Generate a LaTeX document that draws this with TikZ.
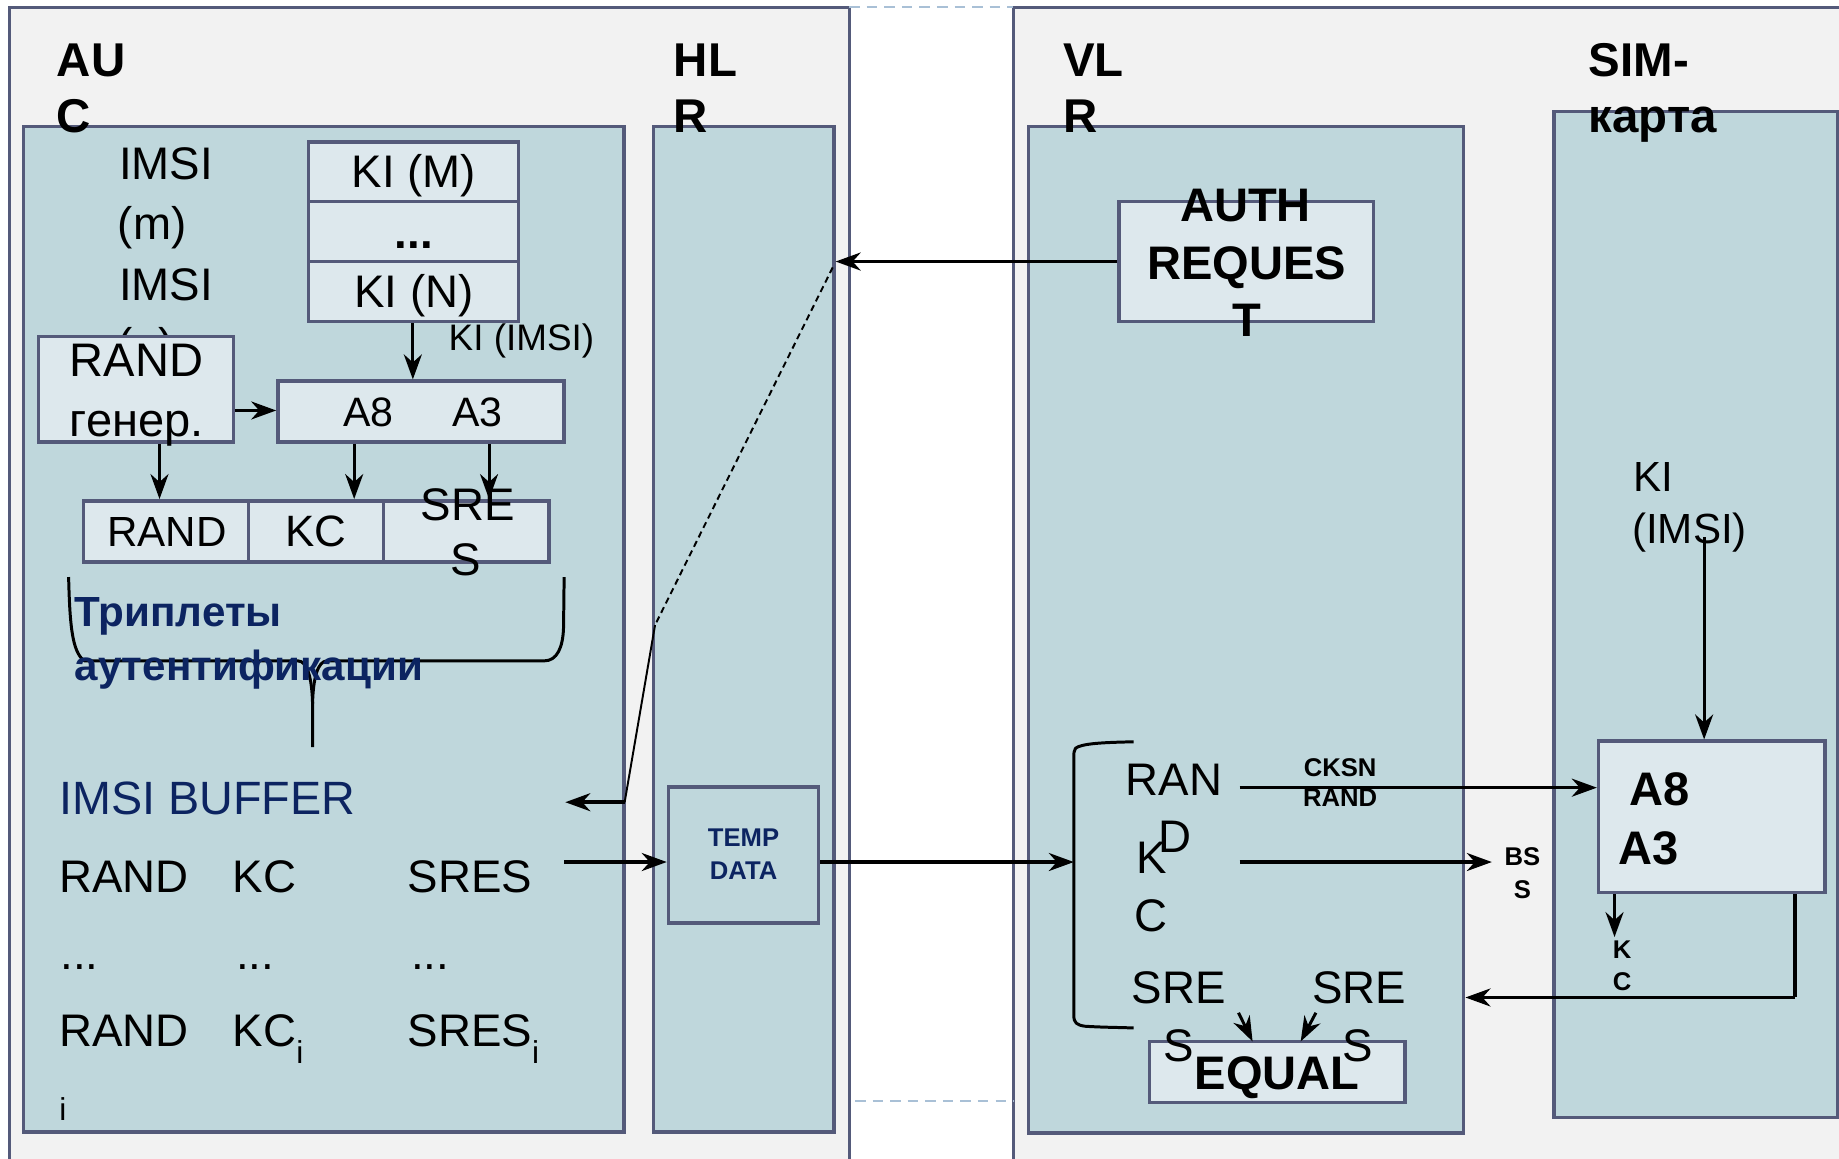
\documentclass[tikz,border=0pt]{standalone}
\usepackage{fontspec}
\setmainfont{Liberation Sans}
\usetikzlibrary{arrows.meta,fit}
\definecolor{outerfill}{HTML}{F2F2F2}
\definecolor{frame}{HTML}{545A7A}
\definecolor{panelfill}{HTML}{BFD7DC}
\definecolor{boxfill}{HTML}{DDE8ED}
\definecolor{navy}{HTML}{0C2461}
\definecolor{dashblue}{HTML}{A9C0D6}
\newcommand\myfs[1]{\fontsize{#1}{#1}\selectfont}
\newcommand\mysub[1]{\raisebox{-4.9pt}{\myfs{9}#1}}
\begin{document}
\begin{tikzpicture}[x=0.011728cm,y=-0.011728cm,
  outerbox/.style={draw=frame,fill=outerfill,line width=0.85pt},
  panel/.style={draw=frame,fill=panelfill,line width=1pt,inner sep=0pt},
  lbox/.style={draw=frame,fill=boxfill,line width=1pt,inner sep=0pt},
  tbox/.style={draw=frame,fill=panelfill,line width=1pt,inner sep=0pt},
  txt/.style={inner sep=0pt,anchor=base west},
  ctxt/.style={inner sep=0pt,anchor=base},
  title/.style={txt,font=\bfseries\myfs{13.5}},
  arr/.style={line width=1pt,-{Stealth[length=2.5mm,width=1.8mm,inset=0.8mm]}},
  sarr/.style={line width=0.85pt,-{Stealth[length=2.5mm,width=1.8mm,inset=0.8mm]}},
  plain/.style={line width=1pt},
  thinline/.style={line width=0.55pt},
  brace/.style={line width=0.85pt,line join=round}
]
\useasboundingbox (0,0) rectangle (1568,988);
\clip (0,0) rectangle (1568,988);
\fill[white] (0,0) rectangle (1568,988);

% outer areas
\draw[outerbox] (8,6) rectangle (724,1000);
\draw[outerbox] (864,6) rectangle (1600,1000);
\draw[dashblue,line width=0.6pt,dash pattern=on 3pt off 2pt] (724,6) -- (864,6);
\draw[dashblue,line width=0.6pt,dash pattern=on 3pt off 2pt] (729,938.5) -- (864,938.5);

% panels
\node[panel,fit={(20,108) (532,965)}] (auc) {};
\node[panel,fit={(557,108) (711,965)}] (hlr) {};
\node[panel,fit={(877,108) (1248,966)}] (vlr) {};
\node[panel,fit={(1325,95) (1566.5,953)}] (sim) {};

% titles
\node[title] (tauc1) at (48,65) {AU};
\node[title] (tauc2) at (48,113) {C};
\node[title] (thlr1) at (574,65) {HL};
\node[title] (thlr2) at (574,113) {R};
\node[title] (tvlr1) at (906,65) {VL};
\node[title] (tvlr2) at (906,113) {R};
\node[title] (tsim1) at (1354,65) {SIM-};
\node[title] (tsim2) at (1354,113) {карта};

% ===== AUC =====
\node[txt,font=\myfs{13}] (imsi1) at (101,153) {IMSI};
\node[txt,font=\myfs{13}] (imsim) at (100,204) {(m)};
\node[txt,font=\myfs{13}] (imsi2) at (101,256) {IMSI};
\node[txt,font=\myfs{13}] (imsin) at (100,307) {(n)};

\node[lbox,fit={(263,121) (442,172)}] (kim) {};
\node[lbox,fit={(263,172) (442,223)}] (kid) {};
\node[lbox,fit={(263,223) (442,274)}] (kin) {};
\node[ctxt,font=\myfs{13}] (tkim) at (353,160) {KI (M)};
\node[ctxt,font=\bfseries\myfs{13}] (tkid) at (353,212) {...};
\node[ctxt,font=\myfs{13}] (tkin) at (353,262) {KI (N)};
\node[txt,font=\myfs{10.5}] (tkiimsi) at (382,299) {KI (IMSI)};

\node[lbox,fit={(33,287) (199,377)}] (rg) {};
\node[txt,font=\myfs{13.4}] (trg1) at (59,321) {RAND};
\node[txt,font=\myfs{13.4}] (trg2) at (59,372) {генер.};

\node[lbox,fit={(237,325) (481,377)}] (a83) {};
\node[txt,font=\myfs{11.7}] (ta8) at (292,364) {A8};
\node[txt,font=\myfs{11.7}] (ta3) at (385,364) {A3};

\node[lbox,fit={(71,427) (212,479)}] (tr1) {};
\node[lbox,fit={(212,427) (327,479)}] (tr2) {};
\node[lbox,fit={(327,427) (468,479)}] (tr3) {};
\node[txt,font=\myfs{12}] (ttr1) at (91,466) {RAND};
\node[txt,font=\myfs{12.5}] (ttr2) at (243,466) {KC};
\node[txt,font=\myfs{13}] (ttr3a) at (358,444) {SRE};
\node[ctxt,font=\myfs{13}] (ttr3b) at (397,491) {S};

\coordinate (kix) at (352,0);
\draw[sarr] (kin.south -| kix) -- (a83.north -| kix);
\coordinate (rgy) at (0,350);
\draw[sarr] (rg.east |- rgy) -- (a83.west |- rgy);
\coordinate (c1) at (136,0);
\coordinate (c2) at (302,0);
\coordinate (c3) at (417,0);
\draw[sarr] (rg.south -| c1) -- (tr1.north -| c1);
\draw[sarr] (a83.south -| c2) -- (tr2.north -| c2);
\draw[sarr] (a83.south -| c3) -- (tr3.north -| c3);

% brace
\draw[brace] (58.5,492) .. controls (59.5,530) and (61,556) .. (72,563.5) -- (254,563.5)
  .. controls (262,563.5) and (266,578) .. (266.5,600) -- (266.5,637);
\draw[brace] (266.5,600) .. controls (267,578) and (271,563.5) .. (279,563.5) -- (464,563.5)
  .. controls (475,563.5) and (480,552) .. (480.5,535) -- (481,492);
\node[txt,font=\bfseries\myfs{12},text=navy] (ttrip1) at (63,534.6) {Триплеты};
\node[txt,font=\bfseries\myfs{12},text=navy] (ttrip2) at (63,580) {аутентификации};

% buffer
\node[txt,font=\myfs{13.3},text=navy] (tbuf) at (50,694.5) {IMSI BUFFER};
\node[txt,font=\myfs{13}] (b11) at (50,761) {RAND};
\node[txt,font=\myfs{13}] (b12) at (198,761) {KC};
\node[txt,font=\myfs{13}] (b13) at (347,761) {SRES};
\node[txt,font=\myfs{13}] (b21) at (51,826.7) {...};
\node[txt,font=\myfs{13}] (b22) at (200.7,826.7) {...};
\node[txt,font=\myfs{13}] (b23) at (350,826.7) {...};
\node[txt,font=\myfs{13}] (b31) at (50,892) {RAND};
\node[txt,font=\myfs{13}] (b32) at (198,892) {KC\mysub{i}};
\node[txt,font=\myfs{13}] (b33) at (347,892) {SRES\mysub{i}};
\node[txt,font=\myfs{9}] (b4) at (50,955.6) {i};

% HLR
\node[tbox,fit={(570,671) (698,787)}] (temp) {};
\node[ctxt,font=\bfseries\myfs{7.3},text=navy] (ttemp1) at (634,722) {TEMP};
\node[ctxt,font=\bfseries\myfs{7.3},text=navy] (ttemp2) at (634,750) {DATA};

% ===== VLR =====
\node[lbox,fit={(954,172) (1171,274)}] (auth) {};
\node[ctxt,font=\bfseries\myfs{13.4}] (tauth1) at (1062,189) {AUTH};
\node[ctxt,font=\bfseries\myfs{13.4}] (tauth2) at (1063,238) {REQUES};
\node[ctxt,font=\bfseries\myfs{13.4}] (tauth3) at (1063,287) {T};
\draw[arr] (auth.west) -- (auth.west -| hlr.east);

\coordinate (dstart) at (710,228);
\coordinate (dbend) at (558.5,533);
\coordinate (dcorner) at (532.6,684);
\coordinate (dend) at (482,684);
\draw[thinline,dash pattern=on 1.8pt off 1.2pt] (dstart) -- (dbend);
\draw[thinline] (dbend) -- (dcorner);
\draw[arr] (dcorner) -- (dend);

\coordinate (sresend) at (481,735);
\coordinate (vbr) at (915.6,735);
\draw[arr] (sresend) -- (sresend -| temp.west);
\draw[arr] (sresend -| temp.east) -- (vbr);

% bracket
\draw[brace] (966.5,632.5) .. controls (940,633) and (922,634) .. (917,638)
  .. controls (915.6,640) and (915.6,642) .. (915.6,646) -- (915.6,866)
  .. controls (915.6,872) and (918,874) .. (925,875)
  .. controls (940,876) and (955,876) .. (966.5,876.5);

\node[ctxt,font=\myfs{13}] (vr1) at (1001,678) {RAN};
\node[ctxt,font=\myfs{13}] (vr2) at (1002,727) {D};
\node[ctxt,font=\myfs{13}] (vk1) at (982,745) {K};
\node[ctxt,font=\myfs{13}] (vk2) at (981,794) {C};

\node[lbox,fit={(980,888) (1198,940)}] (eq) {};
\node[ctxt,font=\bfseries\myfs{13.4}] (teq) at (1089,929) {EQUAL};
\node[ctxt,font=\myfs{13}] (vs1) at (1005,856) {SRE};
\node[ctxt,font=\myfs{13}] (vs2) at (1005,905) {S};
\node[ctxt,font=\myfs{13}] (vt1) at (1159,856) {SRE};
\node[ctxt,font=\myfs{13}] (vt2) at (1158,905) {S};
\coordinate (e1) at (1056,863.5);
\coordinate (e2) at (1122,863.5);
\coordinate (e1t) at (1068,888);
\coordinate (e2t) at (1109,888);
\draw[sarr] (e1) -- (e1t);
\draw[sarr] (e2) -- (e2t);

% ===== SIM =====
\node[lbox,fit={(1363,632) (1556,761)}] (sa) {};
\node[txt,font=\bfseries\myfs{13.4}] (tsa8) at (1389,686.6) {A8};
\node[txt,font=\bfseries\myfs{13.4}] (tsa3) at (1379,736.7) {A3};
\node[txt,font=\myfs{12}] (tki1) at (1392,419.5) {KI};
\node[txt,font=\myfs{12}] (tki2) at (1391,463) {(IMSI)};
\coordinate (kitop) at (1453,458);
\draw[sarr] (kitop) -- (kitop |- sa.north);

\coordinate (cks) at (1057,671.6);
\draw[arr] (cks) -- (cks -| sa.west);
\node[ctxt,font=\bfseries\myfs{7.3}] (tcksn) at (1142.6,662) {CKSN};
\node[ctxt,font=\bfseries\myfs{7.3}] (tcrand) at (1142.6,688) {RAND};

\coordinate (bss0) at (1057,735);
\coordinate (bss1) at (1272,735);
\draw[arr] (bss0) -- (bss1);
\node[ctxt,font=\bfseries\myfs{7.3}] (tbs1) at (1298,738) {BS};
\node[ctxt,font=\bfseries\myfs{7.3}] (tbs2) at (1298,766) {S};

\coordinate (kcx) at (1376.6,0);
\coordinate (kcend) at (1376.6,799);
\draw[sarr] (sa.south -| kcx) -- (kcend);
\node[ctxt,font=\bfseries\myfs{7.3}] (tkc1) at (1383,817) {K};
\node[ctxt,font=\bfseries\myfs{7.3}] (tkc2) at (1383,844.6) {C};

\coordinate (retx) at (1530.6,0);
\coordinate (rety) at (1530.6,850.5);
\draw[plain] (sa.south -| retx) -- (rety);
\draw[arr] (rety) -- (rety -| vlr.east);
\end{tikzpicture}
\end{document}
